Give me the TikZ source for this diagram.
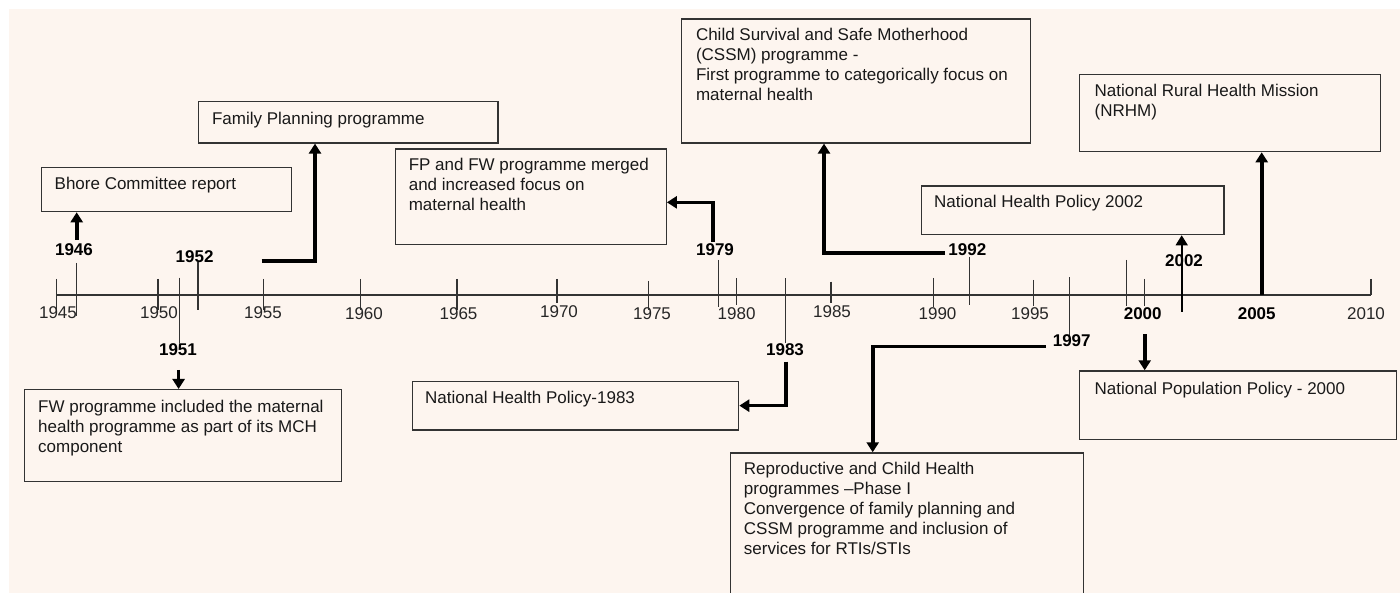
\documentclass[tikz,border=0pt]{standalone}
\usepackage{fontspec}
\setmainfont{Liberation Sans}
\usetikzlibrary{arrows.meta,positioning,calc}

\definecolor{paper}{HTML}{FDF5EF}
\definecolor{boxline}{HTML}{333333}

\begin{document}
\begin{tikzpicture}[x=1pt,y=-1pt,
  font=\fontsize{17}{20}\selectfont,
  evbox/.style={draw=boxline,line width=1.3pt,anchor=north west,inner sep=0pt},
  evtext/.style={anchor=north west,align=left,inner sep=0pt,text=black!90},
  yr/.style={inner sep=0pt,text=black!85},
  yrbold/.style={inner sep=0pt,font=\fontsize{17}{20}\selectfont\bfseries},
  tick/.style={line width=1.2pt,draw=black!80},
  link/.style={line width=3.6pt,-{Triangle[width=12pt,length=10pt]}},
  thinlink/.style={line width=1.6pt,-{Triangle[width=12pt,length=10pt]}}]

  % page
  \useasboundingbox (0,0) rectangle (1400,593);
  \fill[paper] (9,9) rectangle (1400,593);

  % axis
  \draw[tick] (56.7,295) -- (1371,295);

  % ticks
  \draw[tick] (56.7,279) -- (56.7,310);
  \draw[tick] (76.7,263) -- (76.7,316);
  \draw[tick] (158,279) -- (158,310);
  \draw[tick] (179.3,277.7) -- (179.3,343);
  \draw[tick] (198,262) -- (198,310);
  \draw[tick] (263.3,279) -- (263.3,310);
  \draw[tick] (360.7,279) -- (360.7,310);
  \draw[tick] (457,279) -- (457,310);
  \draw[tick] (557,279) -- (557,303);
  \draw[tick] (648.7,281) -- (648.7,310);
  \draw[tick] (718.3,260) -- (718.3,306.7);
  \draw[tick] (736.7,278.3) -- (736.7,305);
  \draw[tick] (785.7,278.3) -- (785.7,343);
  \draw[tick] (831,281.7) -- (831,303);
  \draw[tick] (933.7,278) -- (933.7,306.7);
  \draw[tick] (969.3,256.7) -- (969.3,305);
  \draw[tick] (1033.3,280) -- (1033.3,306);
  \draw[tick] (1069.3,277.3) -- (1069.3,338);
  \draw[tick] (1126.3,260) -- (1126.3,306);
  \draw[tick] (1144.7,279) -- (1144.7,306);
  \draw[tick] (1371,279) -- (1371,295);

  % year labels
  \node[yr] (y45) at (58,313) {1945};
  \node[yr] (y50) at (159,313) {1950};
  \node[yr] (y55) at (263,313) {1955};
  \node[yr] (y60) at (364,314) {1960};
  \node[yr] (y65) at (458.5,314) {1965};
  \node[yr] (y70) at (559,311.7) {1970};
  \node[yr] (y75) at (652,314) {1975};
  \node[yr] (y80) at (736.6,314) {1980};
  \node[yr] (y85) at (832,311.7) {1985};
  \node[yr] (y90) at (937.5,314) {1990};
  \node[yr] (y95) at (1030,314) {1995};
  \node[yrbold] (y00) at (1142.7,314) {2000};
  \node[yrbold] (y05) at (1256.7,314) {2005};
  \node[yr] (y10) at (1366,314) {2010};

  % event years
  \node[yrbold] (l46) at (74,250) {1946};
  \node[yrbold] (l51) at (178,350) {1951};
  \node[yrbold] (l52) at (194.6,256.7) {1952};
  \node[yrbold] (l79) at (715,250) {1979};
  \node[yrbold] (l83) at (785,349.3) {1983};
  \node[yrbold] (l92) at (967.3,250) {1992};
  \node[yrbold] (l97) at (1071.7,340.7) {1997};
  \node[yrbold] (l02) at (1184,260.7) {2002};

  % boxes above the axis
  \node[evbox,minimum width=249.6pt,minimum height=44.3pt] (bhore) at (41,166.7) {};
  \node[evtext] (bhore-t) at ([shift={(13.5pt,-10.5pt)}]bhore.north west) {Bhore Committee report};

  \node[evbox,minimum width=299.5pt,minimum height=41.6pt] (fp) at (197.8,100.7) {};
  \node[evtext] (fp-t) at ([shift={(14pt,-11pt)}]fp.north west) {Family Planning programme};

  \node[evbox,minimum width=271pt,minimum height=95.4pt] (fpfw) at (394.6,148.3) {};
  \node[evtext] (fpfw-t) at ([shift={(14pt,-10pt)}]fpfw.north west)
    {FP and FW programme merged\\and increased focus on\\maternal health};

  \node[evbox,minimum width=348.7pt,minimum height=124pt] (cssm) at (680.8,18.3) {};
  \node[evtext] (cssm-t) at ([shift={(15pt,-10pt)}]cssm.north west)
    {Child Survival and Safe Motherhood\\(CSSM) programme -\\First programme to categorically focus on\\maternal health};

  \node[evbox,minimum width=301pt,minimum height=77pt] (nrhm) at (1079,74) {};
  \node[evtext] (nrhm-t) at ([shift={(15.5pt,-10pt)}]nrhm.north west)
    {National Rural Health Mission\\(NRHM)};

  \node[evbox,minimum width=302.8pt,minimum height=48.7pt] (nhp02) at (920.5,185.3) {};
  \node[evtext] (nhp02-t) at ([shift={(13.5pt,-10pt)}]nhp02.north west) {National Health Policy 2002};

  % boxes below the axis
  \node[evbox,minimum width=316.9pt,minimum height=91.7pt] (fw) at (23.7,389) {};
  \node[evtext] (fw-t) at ([shift={(14.3pt,-11pt)}]fw.north west)
    {FW programme included the maternal\\health programme as part of its MCH\\component};

  \node[evbox,minimum width=326.4pt,minimum height=48.6pt] (nhp83) at (411.6,380.7) {};
  \node[evtext] (nhp83-t) at ([shift={(13.4pt,-10pt)}]nhp83.north west) {National Health Policy-1983};

  \node[evbox,minimum width=353.5pt,minimum height=150pt] (rch) at (729.5,452.3) {};
  \node[evtext] (rch-t) at ([shift={(14.2pt,-10pt)}]rch.north west)
    {Reproductive and Child Health\\programmes –Phase I\\Convergence of family planning and\\CSSM programme and inclusion of\\services for RTIs/STIs};

  \node[evbox,minimum width=316.5pt,minimum height=68.7pt] (npp) at (1079,370.3) {};
  \node[evtext] (npp-t) at ([shift={(15.5pt,-12pt)}]npp.north west) {National Population Policy - 2000};

  % connector starts
  \coordinate (s46) at (76.7,240);
  \coordinate (s51) at (178.6,370);
  \coordinate (s52) at (261.7,261);
  \coordinate (s79) at (712.7,241.7);
  \coordinate (s83) at (785.7,361.7);
  \coordinate (s92) at (945,253.3);
  \coordinate (s97) at (1046,346.7);
  \coordinate (s00) at (1144.7,334.3);
  \coordinate (s02) at (1181.7,311.7);
  \coordinate (s05) at (1261.7,295);

  % connectors
  \draw[link] (s46) -- (s46 |- bhore.south);
  \draw[link] (s51) -- (s51 |- fw.north);
  \draw[link] (s52) -| ([xshift=117.2pt]fp.south west);
  \draw[link] (s79) |- ([yshift=-5.7pt]fpfw.east);
  \draw[link] (s83) |- (nhp83.east);
  \draw[link] (s92) -| ([xshift=143.2pt]cssm.south west);
  \draw[link] (s97) -| ([xshift=143.2pt]rch.north west);
  \draw[link] (s00) -- (s00 |- npp.north);
  \draw[thinlink] (s02) -- (s02 |- nhp02.south);
  \draw[link] (s05) -- (s05 |- nrhm.south);
\end{tikzpicture}
\end{document}
